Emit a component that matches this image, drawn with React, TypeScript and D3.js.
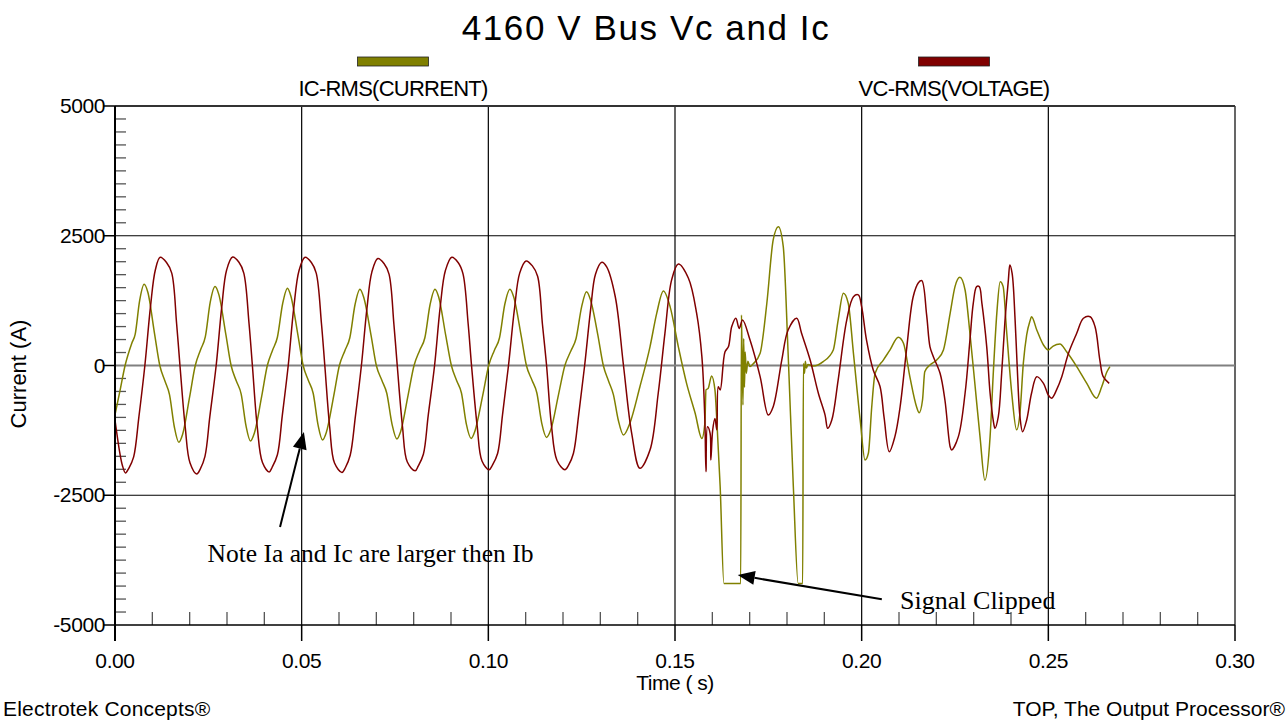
import React from "react";
import * as d3 from "d3";

// ---------- data (time in ms, value in A) ----------
const titleText = "4160 V Bus Vc and Ic";
const seriesNames = ["IC-RMS(CURRENT)", "VC-RMS(VOLTAGE)"];
const seriesColors = ["#808000", "#800000"];
const xTicks = [0, 50, 100, 150, 200, 250, 300];
const yTicks = [-5000, -2500, 0, 2500, 5000];

const icPoints: [number, number][] = [
  [0.0,-950],[1.3,-500],[2.7,0],[4.5,430],[5.4,600],[6.6,1250],[7.8,1565],
  [8.8,1410],[10.6,610],[12.0,0],[13.4,-305],[14.6,-560],[15.9,-1185],[17.1,-1480],
  [18.1,-1330],[20.0,-600],[21.5,0],[22.9,300],[24.2,555],[25.5,1215],[26.8,1520],
  [27.8,1370],[29.7,595],[31.1,0],[32.5,-300],[33.8,-550],[35.1,-1165],[36.3,-1455],
  [37.3,-1310],[39.3,-590],[40.8,0],[42.2,295],[43.5,545],[44.9,1190],[46.2,1490],
  [47.1,1340],[49.0,585],[50.4,0],[51.8,-290],[53.1,-540],[54.4,-1150],[55.6,-1435],
  [56.6,-1290],[58.6,-580],[60.1,0],[61.6,290],[62.9,535],[64.3,1175],[65.6,1470],
  [66.6,1320],[68.6,575],[70.0,0],[71.5,-290],[72.8,-535],[74.2,-1130],[75.5,-1415],
  [76.5,-1275],[78.5,-575],[80.1,0],[81.6,290],[83.0,535],[84.4,1175],[85.7,1470],
  [86.7,1320],[88.6,575],[90.1,0],[91.5,-290],[92.8,-530],[94.1,-1125],[95.4,-1405],
  [96.4,-1265],[98.5,-575],[100.1,0],[101.6,290],[103.0,535],[104.4,1175],[105.8,1470],
  [106.8,1320],[108.8,570],[110.2,0],[111.7,-285],[113.0,-530],[114.3,-1110],[115.6,-1385],
  [116.7,-1245],[118.8,-560],[120.5,0],[122.1,280],[123.5,520],[125.0,1135],[126.3,1420],
  [127.3,1280],[129.3,600],[130.8,0],[132.2,-300],[133.5,-560],[134.8,-1050],[136.2,-1340],
  [137.9,-1115],[140.6,-410],[143.3,360],[145.1,1005],[146.9,1435],[148.7,1130],[150.9,360],
  [153.1,-345],[155.4,-920],[157.2,-1405],[158.0,-1115],[158.3,-470],[158.9,-440],[159.8,-200],
  [160.7,-470],[161.2,-1050],[162.1,-2335],[163.1,-4200],[167.6,-4200],[167.8,975],[168.2,-760],
  [168.4,520],[168.6,-420],[168.8,260],[169.1,-150],[169.5,80],[170.1,-20],[170.9,30],
  [172.8,235],[174.6,1200],[176.3,2420],[177.7,2675],[179.0,2290],[180.3,235],[181.7,-2335],
  [183.0,-4200],[184.2,-4200],[184.4,40],[184.7,-150],[184.9,80],[185.2,-50],[185.6,20],
  [187.0,-10],[189.7,75],[192.4,300],[193.7,875],[195.1,1390],[196.4,1200],[197.8,235],
  [199.6,-1050],[200.9,-1820],[201.8,-1690],[202.7,-795],[203.6,-150],[205.8,105],[207.6,300],
  [209.8,545],[211.2,430],[212.9,-215],[214.7,-795],[215.4,-910],[216.3,-665],[216.9,-120],
  [218.3,10],[220.1,105],[221.9,300],[223.7,1005],[225.0,1520],[226.3,1700],[227.7,1455],
  [229.0,620],[230.4,-410],[231.7,-1370],[233.0,-2210],[234.4,-1370],[235.3,-85],[236.2,1005],
  [237.1,1615],[237.9,1520],[238.8,685],[240.2,-535],[241.5,-1240],[242.4,-920],[243.3,40],
  [244.2,590],[245.1,860],[245.5,940],[246.9,685],[248.7,395],[250.0,300],[251.3,375],
  [253.1,415],[254.9,265],[257.6,-20],[260.3,-345],[262.9,-630],[264.3,-410],[265.7,-120],
  [266.5,-20],
];

const vcPoints: [number, number][] = [
  [0.0,-1050],[1.3,-1690],[2.0,-1930],[2.8,-2070],[3.7,-1980],[5.0,-1760],[6.4,-990],[8.0,0],[9.5,1130],[10.8,1840],[12.1,2085],
  [13.8,1985],[15.2,1780],[16.5,810],[17.4,0],[18.8,-1180],[20.1,-1880],[21.9,-2090],[22.8,-2000],[24.1,-1750],[25.4,-985],[27.1,0],[28.6,1130],[29.9,1840],[31.5,2090],
  [33.2,1990],[34.5,1780],[35.9,810],[36.8,0],[38.1,-1180],[39.5,-1870],[41.3,-2050],[42.1,-1960],[43.5,-1720],[44.8,-970],[46.4,0],[47.9,1120],[49.3,1830],[50.9,2085],
  [52.6,1985],[53.9,1780],[55.3,810],[56.2,0],[57.5,-1180],[58.8,-1880],[60.8,-2060],[61.7,-1970],[63.0,-1730],[64.4,-975],[66.0,0],[67.5,1110],[68.8,1800],[70.4,2060],
  [72.1,1960],[73.4,1760],[74.7,800],[75.6,0],[77.0,-1170],[78.3,-1860],[80.4,-2030],[81.2,-1940],[82.6,-1710],[83.9,-960],[85.6,0],[87.1,1120],[88.5,1830],[90.2,2085],
  [91.9,1985],[93.2,1770],[94.6,800],[95.5,0],[97.0,-1160],[98.3,-1840],[100.2,-2010],[101.1,-1920],[102.5,-1690],[103.8,-950],[105.4,0],[107.0,1090],[108.4,1780],[110.1,2015],
  [111.8,1920],[113.2,1720],[114.5,790],[115.6,0],[116.9,-1150],[118.4,-1830],[120.5,-2010],[121.5,-1920],[122.8,-1690],[124.2,-950],[125.8,0],[127.4,1080],[128.7,1760],[130.4,1990],
  [131.7,1900],[134.0,1325],[136.2,0],[138.4,-1310],[140.6,-1980],[143.3,-1630],[145.5,-540],[147.3,620],[149.1,1650],[150.9,1955],[153.6,1680],[155.8,1005],[157.2,170],
  [158.0,-1050],[158.3,-2045],[158.7,-1180],[159.4,-1305],[159.6,-1820],[160.1,-1240],[160.7,-1020],[161.2,-1240],[161.6,-410],[162.1,-470],[163.4,265],[164.3,360],
  [165.2,750],[166.3,910],[167.2,715],[168.1,875],[170.1,490],[172.8,-215],[175.0,-955],[176.3,-795],[178.6,105],[180.3,685],[182.6,910],[183.9,620],[186.2,105],
  [188.4,-535],[190.2,-955],[190.9,-1210],[192.0,-1050],[193.7,-280],[196.0,875],[197.8,1325],[199.1,1360],[200.0,1130],[201.3,490],[203.1,-85],[204.9,-400],
  [206.0,-1000],[207.4,-1660],[208.9,-1370],[210.3,-795],[212.1,360],[213.8,1325],[215.2,1595],[216.1,1635],[217.4,975],[218.3,360],[219.2,170],[221.0,-150],
  [222.3,-665],[223.7,-1565],[224.1,-1630],[225.9,-1370],[227.7,-535],[229.0,490],[229.9,1200],[230.8,1520],[231.5,1520],[232.2,1200],[233.5,360],[234.4,-535],
  [235.3,-1085],[235.7,-1210],[236.6,-985],[237.5,-150],[238.4,875],[239.3,1650],[239.7,1935],[240.3,1775],[241.1,875],[241.7,-85],[242.4,-985],[243.1,-1275],
  [244.2,-1050],[245.5,-535],[246.9,-215],[248.7,-345],[250.0,-570],[250.9,-630],[252.2,-470],[253.6,-215],[255.4,235],[257.6,620],[259.4,910],[261.2,940],
  [262.5,750],[263.8,105],[264.7,-215],[266.3,-345],
];

// annotations (data coordinates: time ms, value A)
const noteText = "Note Ia and Ic are larger then Ib";
const noteAnchor = [24.8, -3786];
const noteArrow = [44.2, -3112, 50.6, -1281];
const clipText = "Signal Clipped";
const clipAnchor = [210.3, -4701];
const clipArrow = [205.4, -4505, 166.8, -4037];

export default function App() {
  const W = 1288, H = 721;
  const x = d3.scaleLinear().domain([0, 300]).range([115, 1235]);
  const y = d3.scaleLinear().domain([-5000, 5000]).range([625, 106]);
  const lineIc = d3.line<[number, number]>().x(d => x(d[0])).y(d => y(d[1])).curve(d3.curveMonotoneX);
  const lineVc = d3.line<[number, number]>().x(d => x(d[0])).y(d => y(d[1])).curve(d3.curveCatmullRom.alpha(0.5));

  const yMinor = d3.range(-5000, 5001, 250).filter(v => v % 2500 !== 0);
  const xMinor = d3.range(0, 301, 10).filter(v => v % 50 !== 0);
  const sans = "'Liberation Sans', Arial, sans-serif";
  const serif = "'Liberation Serif', 'Times New Roman', serif";

  const arrow = (a: number[]) => {
    const x1 = x(a[0]), y1 = y(a[1]), x2 = x(a[2]), y2 = y(a[3]);
    const ang = Math.atan2(y2 - y1, x2 - x1);
    const L = 17, Wd = 7;
    const bx = x2 - L * Math.cos(ang), by = y2 - L * Math.sin(ang);
    const px = -Math.sin(ang) * Wd, py = Math.cos(ang) * Wd;
    return (
      <g>
        <line x1={x1} y1={y1} x2={bx} y2={by} stroke="#000" strokeWidth={2} />
        <polygon points={`${x2},${y2} ${bx + px},${by + py} ${bx - px},${by - py}`} fill="#000" />
      </g>
    );
  };

  return (
    <svg width={W} height={H} style={{ position: "absolute", left: 0, top: 0, background: "#fff" }}>
      <rect x={0} y={0} width={W} height={H} fill="#fff" />
      {/* title */}
      <text x={646} y={40} textAnchor="middle" fontFamily={sans} fontSize={35} letterSpacing={1.6}>{titleText}</text>
      {/* legend */}
      {[393, 954].map((cx, i) => (
        <g key={i}>
          <rect x={cx - 35.5} y={57} width={71} height={9} fill={seriesColors[i]} stroke="#222" strokeWidth={0.8} />
          <text x={cx} y={96} textAnchor="middle" fontFamily={sans} fontSize={22} letterSpacing={-0.75}>{seriesNames[i]}</text>
        </g>
      ))}
      {/* grid */}
      {xTicks.filter(t => t > 0).map(t => (
        <line key={"gx" + t} x1={x(t)} x2={x(t)} y1={y(5000)} y2={y(-5000)} stroke="#000" strokeWidth={1.2} />
      ))}
      {yTicks.filter(v => v !== 0 && Math.abs(v) !== 5000).map(v => (
        <line key={"gy" + v} x1={x(0)} x2={x(300)} y1={y(v)} y2={y(v)} stroke="#000" strokeWidth={1.2} />
      ))}
      <line x1={x(0)} x2={x(300)} y1={y(0)} y2={y(0)} stroke="#808080" strokeWidth={2} />
      <line x1={x(0)} x2={x(300)} y1={y(5000)} y2={y(5000)} stroke="#333" strokeWidth={2} />
      {/* minor ticks */}
      {yMinor.map(v => (
        <line key={"ym" + v} x1={x(0)} x2={x(0) + 11} y1={y(v)} y2={y(v)} stroke="#555" strokeWidth={1.3} />
      ))}
      {xMinor.map(t => (
        <line key={"xm" + t} x1={x(t)} x2={x(t)} y1={y(-5000)} y2={y(-5000) - 13} stroke="#555" strokeWidth={1.3} />
      ))}
      {/* data */}
      <path d={lineIc(icPoints) || ""} fill="none" stroke={seriesColors[0]} strokeWidth={1.5} strokeLinejoin="round" />
      <path d={lineVc(vcPoints) || ""} fill="none" stroke={seriesColors[1]} strokeWidth={1.5} strokeLinejoin="round" />
      {/* axes */}
      <line x1={x(0)} x2={x(0)} y1={y(5000)} y2={y(-5000) + 16} stroke="#000" strokeWidth={2} />
      <line x1={x(0)} x2={x(300)} y1={y(-5000)} y2={y(-5000)} stroke="#000" strokeWidth={1.5} />
      {xTicks.map(t => (
        <g key={"xt" + t}>
          <line x1={x(t)} x2={x(t)} y1={y(-5000)} y2={y(-5000) + 16} stroke="#000" strokeWidth={1.5} />
          <text x={x(t)} y={668} textAnchor="middle" fontFamily={sans} fontSize={21} letterSpacing={-0.4}>{(t / 1000).toFixed(2)}</text>
        </g>
      ))}
      {yTicks.map(v => (
        <g key={"yt" + v}>
          <line x1={x(0) - 12} x2={x(0)} y1={y(v)} y2={y(v)} stroke="#000" strokeWidth={1.5} />
          <text x={x(0) - 10} y={y(v) + 7} textAnchor="end" fontFamily={sans} fontSize={21} letterSpacing={-0.4}>{v}</text>
        </g>
      ))}
      <text x={675} y={690} textAnchor="middle" fontFamily={sans} fontSize={21} letterSpacing={-0.5}>Time ( s)</text>
      <text transform="translate(26,374) rotate(-90)" textAnchor="middle" fontFamily={sans} fontSize={22} letterSpacing={0}>Current (A)</text>
      {/* annotations */}
      {arrow(noteArrow)}
      <text x={x(noteAnchor[0])} y={y(noteAnchor[1])} fontFamily={serif} fontSize={25.5}>{noteText}</text>
      {arrow(clipArrow)}
      <text x={x(clipAnchor[0])} y={y(clipAnchor[1])} fontFamily={serif} fontSize={26}>{clipText}</text>
      {/* footer */}
      <text x={3} y={716} fontFamily={sans} fontSize={21} letterSpacing={0.2}>Electrotek Concepts®</text>
      <text x={1285} y={716} textAnchor="end" fontFamily={sans} fontSize={21} letterSpacing={0}>TOP, The Output Processor®</text>
    </svg>
  );
}
